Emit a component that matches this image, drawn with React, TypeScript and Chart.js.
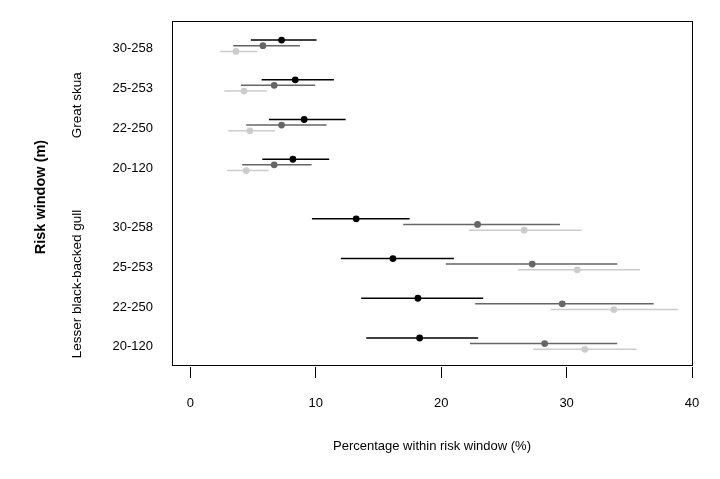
import React, { useEffect, useRef } from "react";
import { Chart, registerables } from "chart.js";

Chart.register(...registerables);

// Risk windows (rows, top to bottom inside each species block)
const riskWindows = ["30-258", "25-253", "22-250", "20-120"];
const speciesNames = ["Great skua", "Lesser black-backed gull"];
const xTickValues = [0, 10, 20, 30, 40];

// Order of each array: Great skua (30-258, 25-253, 22-250, 20-120),
// then Lesser black-backed gull (30-258, 25-253, 22-250, 20-120)
const blackMean = [7.27, 8.36, 9.07, 8.17, 13.22, 16.15, 18.14, 18.28];
const blackLower = [4.82, 5.68, 6.26, 5.73, 9.69, 12.0, 13.62, 14.02];
const blackUpper = [10.06, 11.44, 12.38, 11.07, 17.48, 21.01, 23.35, 22.95];

const darkMean = [5.78, 6.68, 7.27, 6.68, 22.9, 27.26, 29.65, 28.25];
const darkLower = [3.41, 4.03, 4.45, 4.13, 16.97, 20.37, 22.71, 22.29];
const darkUpper = [8.73, 9.95, 10.86, 9.66, 29.47, 34.04, 36.94, 34.04];

const lightMean = [3.63, 4.27, 4.74, 4.45, 26.62, 30.85, 33.77, 31.46];
const lightLower = [2.35, 2.7, 3.01, 2.91, 22.21, 26.12, 28.72, 27.34];
const lightUpper = [5.33, 6.1, 6.74, 6.24, 31.2, 35.85, 38.88, 35.58];

const FONT = "'Liberation Sans', Arial, Helvetica, sans-serif";
const seriesOffsets = [0.22, 0.08, -0.065];

// row position on the y scale: species blocks separated by a 1.5-row gap
function rowPosition(i: number): number {
  const species = Math.floor(i / riskWindows.length);
  const w = i % riskWindows.length;
  const base = riskWindows.length - w;
  return species === 0 ? base + riskWindows.length + 0.5 : base;
}
const rowCount = speciesNames.length * riskWindows.length;
const rowPositions = Array.from({ length: rowCount }, (_, i) => rowPosition(i));

function buildSeries(mean: number[], lower: number[], upper: number[], offset: number) {
  return mean.map((m, i) => ({ x: m, y: rowPositions[i] + offset, lo: lower[i], hi: upper[i] }));
}

const errorBarPlugin = {
  id: "errorBars",
  beforeDatasetsDraw(chart: any) {
    const ctx = chart.ctx;
    const xs = chart.scales.x;
    const ys = chart.scales.y;
    chart.data.datasets.forEach((ds: any) => {
      ctx.save();
      ctx.strokeStyle = ds.barColor;
      ctx.lineWidth = 1.5;
      ds.data.forEach((p: any) => {
        const y = ys.getPixelForValue(p.y);
        ctx.beginPath();
        ctx.moveTo(xs.getPixelForValue(p.lo), y);
        ctx.lineTo(xs.getPixelForValue(p.hi), y);
        ctx.stroke();
      });
      ctx.restore();
    });
  },
};

const framePlugin = {
  id: "frameAndLabels",
  afterDraw(chart: any) {
    const ctx = chart.ctx;
    const a = chart.chartArea;
    const ys = chart.scales.y;
    ctx.save();
    ctx.strokeStyle = "#000";
    ctx.lineWidth = 1;
    const l = Math.round(a.left) + 0.5;
    const t = Math.round(a.top) + 0.5;
    const r = Math.round(a.right) + 0.5;
    const b = Math.round(a.bottom) + 0.5;
    ctx.strokeRect(l, t, r - l, b - t);

    // species labels (rotated)
    ctx.fillStyle = "#000";
    ctx.textAlign = "center";
    ctx.textBaseline = "middle";
    ctx.font = `13.5px ${FONT}`;
    speciesNames.forEach((name, s) => {
      const first = rowPositions[s * riskWindows.length];
      const last = rowPositions[s * riskWindows.length + riskWindows.length - 1];
      const yc = ys.getPixelForValue((first + last) / 2 + seriesOffsets[1]);
      ctx.save();
      ctx.translate(77, yc);
      ctx.rotate(-Math.PI / 2);
      ctx.fillText(name, 0, 0);
      ctx.restore();
    });

    // y axis title
    ctx.font = `bold 14.5px ${FONT}`;
    ctx.save();
    ctx.translate(41, 197);
    ctx.rotate(-Math.PI / 2);
    ctx.fillText("Risk window (m)", 0, 0);
    ctx.restore();
    ctx.restore();
  },
};

export default function App() {
  const canvasRef = useRef<HTMLCanvasElement | null>(null);

  useEffect(() => {
    const canvas = canvasRef.current;
    if (!canvas) return;
    const series = [
      { data: buildSeries(blackMean, blackLower, blackUpper, seriesOffsets[0]), color: "#000000" },
      { data: buildSeries(darkMean, darkLower, darkUpper, seriesOffsets[1]), color: "#666666" },
      { data: buildSeries(lightMean, lightLower, lightUpper, seriesOffsets[2]), color: "#cccccc" },
    ];
    const chart = new Chart(canvas, {
      type: "scatter",
      data: {
        datasets: series.map((s) => ({
          data: s.data,
          barColor: s.color,
          pointBackgroundColor: s.color,
          pointBorderColor: s.color,
          pointBorderWidth: 0,
          pointRadius: 3.4,
          pointHoverRadius: 3.4,
          showLine: false,
        })) as any,
      },
      options: {
        animation: false,
        responsive: false,
        events: [],
        layout: { padding: { top: 21, right: 28, left: 0, bottom: 0 } },
        plugins: { legend: { display: false }, tooltip: { enabled: false } },
        scales: {
          x: {
            type: "linear",
            min: -1.47,
            max: 40,
            afterBuildTicks: (scale: any) => {
              scale.ticks = xTickValues.map((v) => ({ value: v }));
            },
            afterFit: (scale: any) => {
              scale.height = 114;
            },
            border: { display: false },
            grid: {
              drawOnChartArea: false,
              drawTicks: true,
              tickLength: 13,
              tickColor: "#000",
              tickWidth: 1,
              tickBorderDash: [0, 2, 11, 100],
            } as any,
            ticks: {
              color: "#000",
              font: { family: FONT, size: 13 },
              padding: 18,
              maxRotation: 0,
              autoSkip: false,
              callback: (v: any) => String(v),
            },
            title: {
              display: true,
              text: "Percentage within risk window (%)",
              color: "#000",
              font: { family: FONT, size: 13 },
              padding: { top: 0, bottom: 25 },
            },
          },
          y: {
            type: "linear",
            min: 0.54,
            max: 9.2,
            afterBuildTicks: (scale: any) => {
              scale.ticks = rowPositions.map((v) => ({ value: v }));
            },
            afterFit: (scale: any) => {
              scale.width = 172;
              scale.paddingTop = 0;
              scale.paddingBottom = 0;
            },
            border: { display: false },
            grid: { display: false, drawTicks: false },
            ticks: {
              color: "#000",
              font: { family: FONT, size: 13 },
              padding: 19,
              autoSkip: false,
              callback: (v: any) => {
                const idx = rowPositions.findIndex((p) => Math.abs(p - Number(v)) < 1e-6);
                return idx >= 0 ? riskWindows[idx % riskWindows.length] : "";
              },
            },
          },
        },
      },
      plugins: [errorBarPlugin, framePlugin],
    });
    return () => chart.destroy();
  }, []);

  return (
    <div style={{ position: "absolute", left: 0, top: 0, width: 720, height: 479, background: "#fff" }}>
      <canvas ref={canvasRef} width={720} height={479} style={{ display: "block" }} />
    </div>
  );
}
